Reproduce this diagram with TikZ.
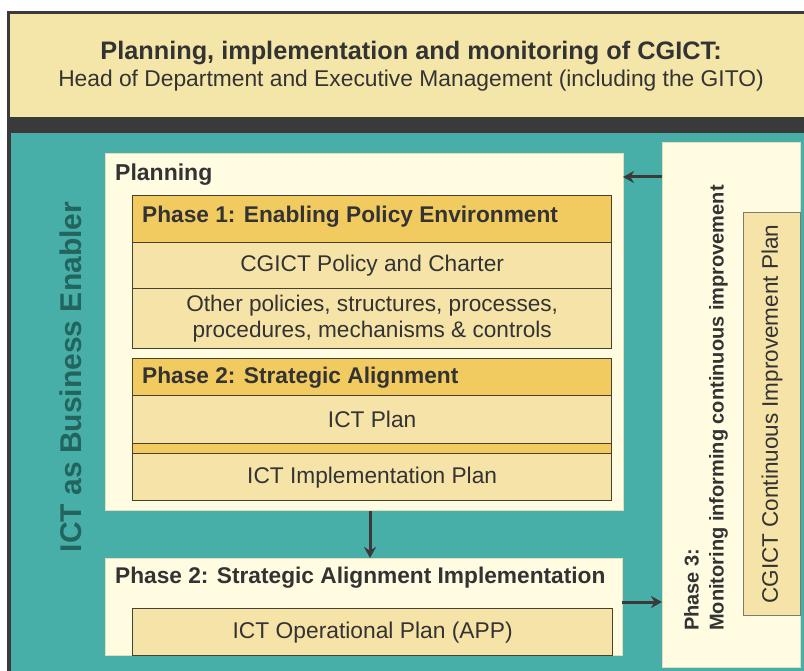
\documentclass[tikz,border=0pt]{standalone}
\usepackage{fontspec}
\setmainfont{Liberation Sans}
\usetikzlibrary{arrows.meta}
\definecolor{tealbg}{HTML}{47AFA8}
\definecolor{tealtxt}{HTML}{22655F}
\definecolor{topyel}{HTML}{F4E6A8}
\definecolor{darkband}{HTML}{3A3A3A}
\definecolor{cream}{HTML}{FFFCE2}
\definecolor{creamline}{HTML}{E2DDBE}
\definecolor{hdr}{HTML}{F1CB60}
\definecolor{row}{HTML}{F6E3A7}
\definecolor{brown}{HTML}{4A4030}
\definecolor{txt}{HTML}{333333}
\newcommand{\fs}[1]{\fontsize{#1}{#1}\selectfont}
\begin{document}
\begin{tikzpicture}[x=1pt,y=-1pt,
  rect/.style={rectangle, inner sep=0pt, anchor=north west},
  panel/.style={rect, fill=cream, draw=creamline, line width=1pt},
  head/.style={rect, fill=hdr, draw=brown, line width=1.3pt},
  cell/.style={rect, fill=row, draw=brown, line width=1.3pt},
  lab/.style={text=txt, inner sep=0pt},
  arr/.style={draw=darkband, line width=3pt, -{Stealth[length=11pt,width=12pt]}}]
\useasboundingbox (0,0) rectangle (804,671);
\fill[white] (0,0) rectangle (804,671);
% frame
\fill[darkband] (7,11) rectangle (804,671);
\fill[topyel] (10,14) rectangle (804,117);
\fill[tealbg] (11,133) rectangle (804,671);
\node[lab, font=\bfseries\fs{25.3}] (title) at (411,53) {Planning, implementation and monitoring of CGICT:};
\node[lab, font=\fs{22.8}] (subtitle) at (411,81) {Head of Department and Executive Management (including the GITO)};
\node[lab, text=tealtxt, font=\bfseries\fs{30}, rotate=90] (enabler) at (71,377) {ICT as Business Enabler};
% planning panel
\node[panel, minimum width=518pt, minimum height=357pt] (plan) at (105,153) {};
\node[lab, anchor=west, font=\bfseries\fs{23}] (plantxt) at (115,175) {Planning};
\node[head, minimum width=479pt, minimum height=47pt] (p1) at (132,195) {};
\node[lab, anchor=west, font=\bfseries\fs{22.7}] at (142,217) {Phase 1: Enabling Policy Environment};
\node[cell, minimum width=479pt, minimum height=46pt] (pol) at (132,242) {};
\node[lab, font=\fs{22.7}] at (pol.center) {CGICT Policy and Charter};
\node[cell, minimum width=479pt, minimum height=60pt] (other) at (132,288) {};
\node[lab, font=\fs{22.6}, align=center] at (other.center) {Other policies, structures, processes,\\[3pt]procedures, mechanisms \& controls};
\node[head, minimum width=479pt, minimum height=37pt] (p2) at (132,358) {};
\node[lab, anchor=west, font=\bfseries\fs{22.7}] at (142,378) {Phase 2: Strategic Alignment};
\node[cell, minimum width=479pt, minimum height=48pt] (ictplan) at (132,395) {};
\node[lab, font=\fs{22.7}] at (ictplan.center) {ICT Plan};
\node[head, minimum width=479pt, minimum height=10pt] (strip) at (132,443) {};
\node[cell, minimum width=479pt, minimum height=47pt] (impl) at (132,453) {};
\node[lab, font=\fs{22.7}] at (impl.center) {ICT Implementation Plan};
% lower panel
\node[panel, minimum width=517pt, minimum height=97pt] (low) at (105,558) {};
\node[lab, anchor=west, font=\bfseries\fs{22.7}] at (115,578) {Phase 2: Strategic Alignment Implementation};
\node[cell, minimum width=480pt, minimum height=47pt] (app) at (132,608) {};
\node[lab, font=\fs{22.8}] at (app.center) {ICT Operational Plan (APP)};
% phase 3 panel
\node[panel, minimum width=138pt, minimum height=525pt] (p3) at (662,142) {};
\node[cell, draw=brown!70, minimum width=57pt, minimum height=403pt] (cip) at (743,212) {};
\node[lab, font=\fs{22.5}, rotate=90] at (cip.center) {CGICT Continuous Improvement Plan};
\node[lab, font=\bfseries\fs{20}, rotate=90, anchor=west, align=left] (p3txt) at (706,631) {Phase 3:\\[5pt]Monitoring informing continuous improvement};
% connectors
\coordinate (a1) at (662,177);
\coordinate (a2) at (623,177);
\draw[arr] (a1) -- (a2);
\draw[arr] (plan.south -| 370,0) -- (low.north -| 370,0);
\coordinate (b1) at (622,602);
\coordinate (b2) at (662,602);
\draw[arr] (b1) -- (b2);
\end{tikzpicture}
\end{document}
